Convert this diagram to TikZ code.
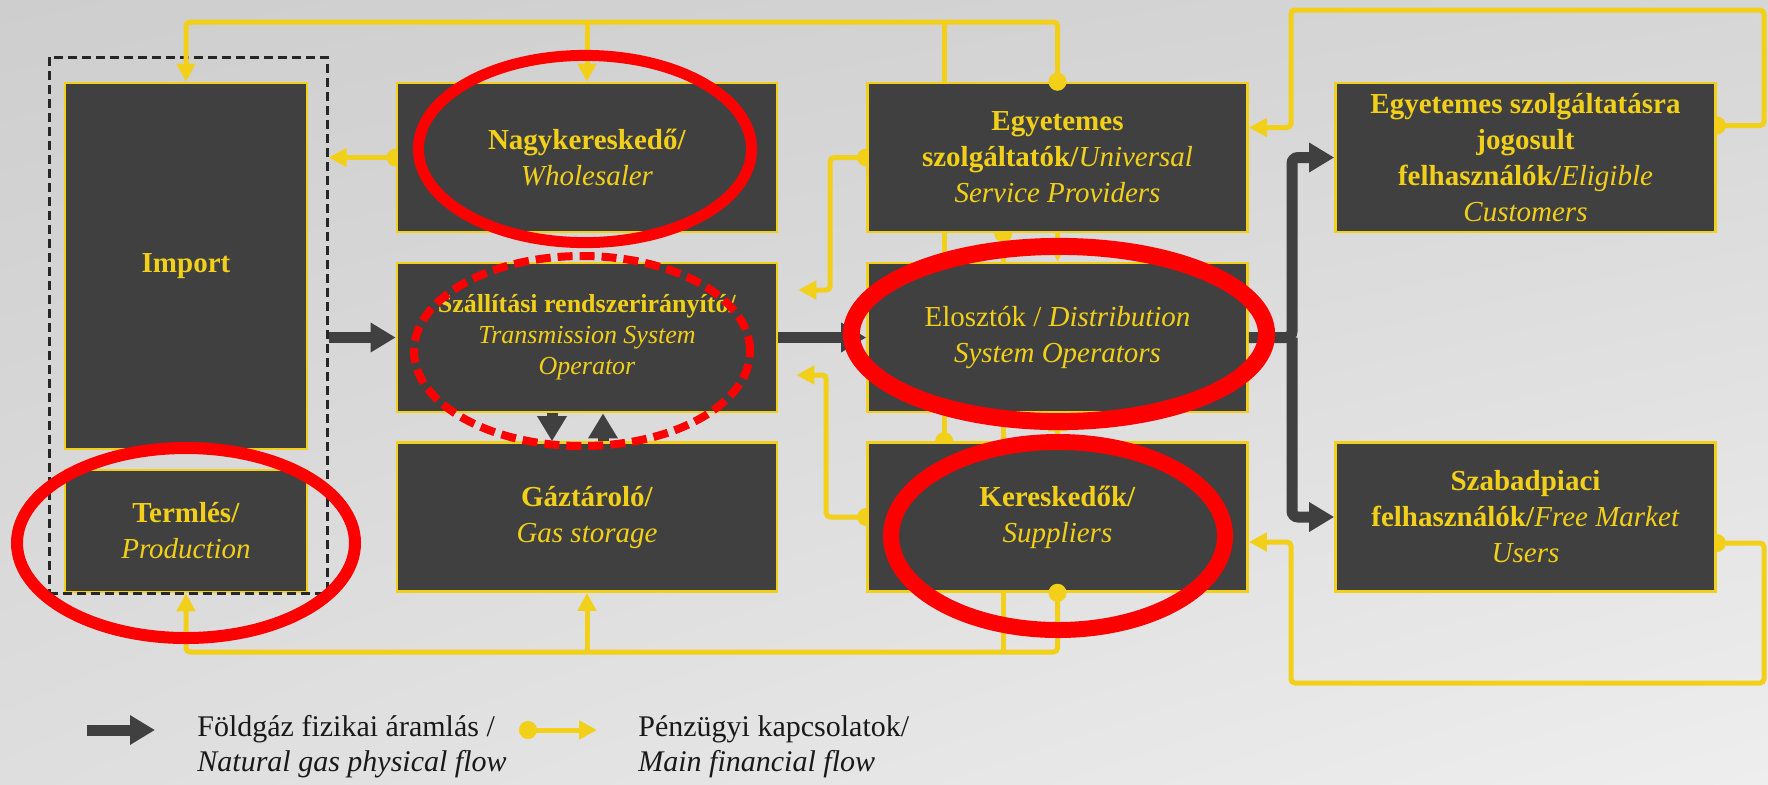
\documentclass[tikz,border=0pt]{standalone}
\usepackage{fontspec}
\setmainfont{Liberation Serif}
\usetikzlibrary{positioning,calc,arrows.meta,backgrounds,shadings}

\definecolor{boxgray}{RGB}{64,64,64}
\definecolor{ylw}{RGB}{242,208,26}
\definecolor{gasgray}{RGB}{64,64,64}
\definecolor{bgtl}{RGB}{206,206,206}
\definecolor{bgtr}{RGB}{214,214,214}
\definecolor{bgbl}{RGB}{222,222,222}
\definecolor{bgbr}{RGB}{238,238,238}
\definecolor{ringred}{RGB}{255,0,0}
\definecolor{keyblack}{RGB}{25,25,25}

\begin{document}
\begin{tikzpicture}[x=0.5pt, y=-0.5pt,
	box/.style={draw=ylw, line width=1.3pt, fill=boxgray, text=ylw, align=center,
		minimum width=190pt, minimum height=74.5pt, inner sep=2pt,
		font=\fontsize{14.5}{18}\selectfont},
	group/.style={draw=black!85, line width=1.5pt, dash pattern=on 4.5pt off 2.5pt},
	gas/.style={draw=gasgray, line width=5.5pt, rounded corners=3pt,
		-{Triangle[length=12.5pt, width=14pt]}},
	money/.style={draw=ylw, line width=2.5pt, rounded corners=2pt, shorten <=-4.5pt,
		{Circle[length=9pt]}-{Triangle[length=9pt, width=9pt]}},
	moneyto/.style={draw=ylw, line width=2.5pt, rounded corners=2pt,
		-{Triangle[length=9pt, width=9pt]}},
	moneyfrom/.style={draw=ylw, line width=2.5pt, shorten <=-4.5pt, {Circle[length=9pt]}-},
	ring/.style={draw=ringred},
	keytext/.style={text=keyblack, align=left, inner sep=0pt, font=\fontsize{15}{17.5}\selectfont}]

\useasboundingbox (0,0) rectangle (1768,784);

\node[box, minimum width=121pt, minimum height=183pt] (import) at (186,266) {\textbf{Import}};
\node[box, minimum width=121pt, minimum height=61pt] (prod) at (186,531) {\textbf{Termlés/}\\\textit{Production}};
\node[group, minimum width=139pt, minimum height=268pt] (domestic) at (188,325) {};

\node[box] (wholesale) at (587,157.5) {\textbf{Nagykereskedő/}\\\textit{Wholesaler}};
\node[box, font=\fontsize{13}{15.5}\selectfont] (tso) at (587,337.5) {\textbf{Szállítási rendszerirányító/}\\\textit{Transmission System}\\\textit{Operator}};
\node[box] (storage) at (587,517) {\textbf{Gáztároló/}\\\textit{Gas storage}};

\node[box] (usp) at (1057.5,157.5) {\textbf{Egyetemes}\\\textbf{szolgáltatók/}\textit{Universal}\\\textit{Service Providers}};
\node[box] (dso) at (1057.5,337.5) {Elosztók / \textit{Distribution}\\\textit{System Operators}};
\node[box] (suppl) at (1057.5,517) {\textbf{Kereskedők/}\\\textit{Suppliers}};

\node[box] (elig) at (1525.5,157.5) {\textbf{Egyetemes szolgáltatásra}\\\textbf{jogosult}\\\textbf{felhasználók/}\textit{Eligible}\\\textit{Customers}};
\node[box] (free) at (1525.5,517) {\textbf{Szabadpiaci}\\\textbf{felhasználók/}\textit{Free Market}\\\textit{Users}};

\coordinate (bustop) at (0,22);
\coordinate (busbot) at (0,652);
\coordinate (ringtop) at (1764,10);
\coordinate (ringbot) at (1764,683);
\coordinate (feedx) at (1291,0);
\coordinate (splitx) at (1292,0);
\coordinate (supup) at ($(suppl.north west)+(78,0)$);
\coordinate (uspdown) at ($(usp.south west)+(137,0)$);
\coordinate (usppay) at ($(tso.east)+(20,-47.5)$);
\coordinate (suppay) at ($(tso.east)+(18,37.5)$);
\coordinate (eligpay) at ($(elig.east)+(0,-32)$);
\coordinate (freepay) at ($(free.east)+(0,26)$);
\coordinate (uspin) at ($(usp.east)+(0,-30)$);
\coordinate (supin) at ($(suppl.east)+(0,25)$);

\begin{scope}[on background layer]
\shade[upper left=bgtl, upper right=bgtr, lower left=bgbl, lower right=bgbr] (0,0) rectangle (1768,784);

\draw[moneyto] (wholesale.north |- bustop) -- (wholesale.north);
\draw[moneyto] (storage.south |- busbot) -- (storage.south);
\draw[moneyfrom] (supup) -- (supup |- bustop);
\draw[moneyfrom] (uspdown) -- (uspdown |- busbot);
\draw[moneyto] (usp.south) -- (dso.north);
\draw[moneyto] (suppl.north) -- (dso.south);
\draw[money] (wholesale.west) -- (wholesale.west -| domestic.east);
\draw[money] (usp.west) -- ++(-36,0) |- (usppay);
\draw[money] (suppl.west) -- ++(-40,0) |- (suppay);
\draw[money] (eligpay) -| (ringtop) -| (uspin -| feedx) -- (uspin);
\draw[money] (freepay) -| (ringbot) -| (supin -| feedx) -- (supin);
\end{scope}

\draw[money] (usp.north) |- (import.north |- bustop) -- (import.north);
\draw[money] (suppl.south) |- (prod.south |- busbot) -- (prod.south);

\draw[gas] (domestic.east |- tso.west) -- (tso.west);
\draw[gas] (tso.east) -- (dso.west);
\draw[gas] ($(tso.south)+(-35,0)$) -- ($(storage.north)+(-35,0)$);
\draw[gas] ($(storage.north)+(16,0)$) -- ($(tso.south)+(16,0)$);
\draw[gas] (dso.east) -- (dso.east -| splitx) |- (elig.west);
\draw[gas] (dso.east -| splitx) |- (free.west);

\coordinate (gaskey) at (87,730);
\coordinate (moneykey) at (528,730);
\draw[gas] (gaskey) -- ++(68,0);
\draw[money] (moneykey) -- ++(69,0);
\node[keytext, anchor=west] (gastext) at (197,747) {Földgáz fizikai áramlás /\\\textit{Natural gas physical flow}};
\node[keytext, anchor=west] (moneytext) at (638,747) {Pénzügyi kapcsolatok/\\\textit{Main financial flow}};

\draw[ring, line width=5.5pt] (585,149) ellipse [x radius=83.3pt, y radius=46.8pt];
\draw[ring, line width=4pt, dash pattern=on 7.5pt off 3.5pt] (582,351) ellipse [x radius=84pt, y radius=47.5pt];
\draw[ring, line width=8.5pt] (1059,334) ellipse [x radius=103.8pt, y radius=43.8pt];
\draw[ring, line width=8pt] (1058,536) ellipse [x radius=83.5pt, y radius=47pt];
\draw[ring, line width=6pt] (186,543) ellipse [x radius=84.5pt, y radius=47.5pt];

\end{tikzpicture}
\end{document}
